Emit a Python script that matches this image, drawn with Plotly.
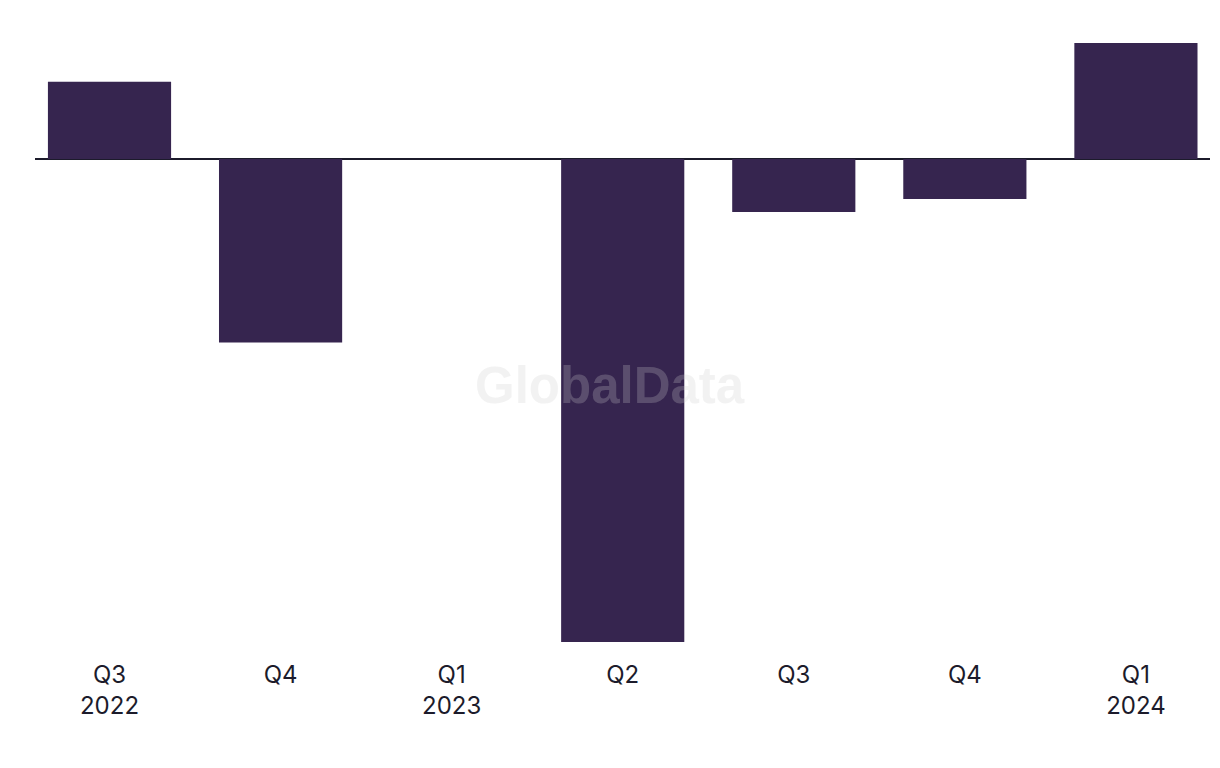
import plotly.graph_objects as go

categories = ["Q3<br>2022", "Q4", "Q1<br>2023", "Q2", "Q3", "Q4", "Q1<br>2024"]
values = [1.6, -3.8, 0.0, -10.0, -1.1, -0.83, 2.4]

bar_color = "#36254f"
text_color = "#1c1b2b"

fig = go.Figure()
fig.add_trace(go.Bar(
    x=list(range(len(categories))),
    y=values,
    marker=dict(color=bar_color, line=dict(width=0)),
    width=0.72,
    hoverinfo="skip",
))

fig.update_layout(
    width=1220,
    height=768,
    margin=dict(l=27, r=18, t=13, b=127),
    paper_bgcolor="white",
    plot_bgcolor="white",
    showlegend=False,
    font=dict(family="Inter, Liberation Sans, sans-serif", size=24, color=text_color),
    xaxis=dict(
        range=[-0.4355, 6.433],
        tickmode="array",
        tickvals=list(range(len(categories))),
        ticktext=categories,
        showgrid=False,
        zeroline=False,
        showline=False,
        ticks="",
        ticklabelstandoff=9,
        tickfont=dict(size=24, color=text_color),
        fixedrange=True,
    ),
    yaxis=dict(
        range=[-10.145, 2.857],
        showgrid=False,
        zeroline=True,
        zerolinecolor=text_color,
        zerolinewidth=2,
        showticklabels=False,
        showline=False,
        ticks="",
        fixedrange=True,
    ),
    annotations=[dict(
        text="<b>GlobalData</b>",
        xref="paper", yref="paper",
        x=0.489, y=0.419,
        xanchor="center", yanchor="middle",
        showarrow=False,
        font=dict(size=51, color="rgba(205,205,205,0.25)", family="Liberation Sans, Arial, sans-serif"),
    )],
)

fig.write_html("out.html")
